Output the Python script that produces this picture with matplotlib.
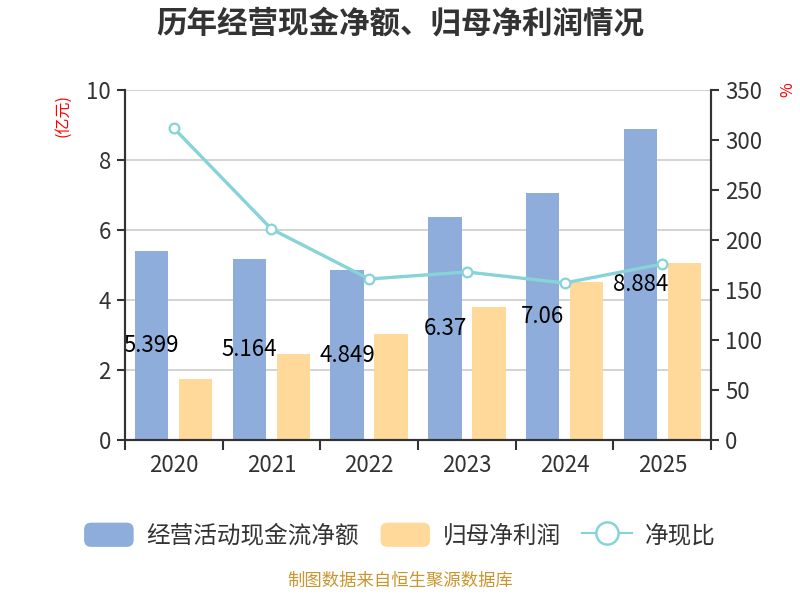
import numpy as np
import matplotlib.pyplot as plt
from matplotlib.patches import FancyBboxPatch, Patch
from matplotlib.lines import Line2D
from matplotlib.legend_handler import HandlerPatch

plt.rcParams['font.family'] = ['Noto Sans CJK SC', 'DejaVu Sans']

years = ['2020', '2021', '2022', '2023', '2024', '2025']
cash_flow = [5.399, 5.164, 4.849, 6.37, 7.06, 8.884]
net_profit = [1.73, 2.45, 3.02, 3.79, 4.50, 5.05]
ratio = [312, 211, 161, 168, 157, 176]

blue = '#8EADDB'
orange = '#FFD99A'
teal = '#86D4D7'
dark = '#333333'


class RoundBox(HandlerPatch):
    def create_artists(self, legend, orig_handle, xdescent, ydescent,
                       width, height, fontsize, trans):
        p = FancyBboxPatch((-xdescent + 2, -ydescent + 2), width - 4, height - 4,
                           boxstyle='round,pad=2,rounding_size=5',
                           facecolor=orig_handle.get_facecolor(),
                           edgecolor='none', transform=trans)
        return [p]


fig = plt.figure(figsize=(8, 6), dpi=100)
ax = fig.add_axes([0.156, 0.2667, 0.733, 0.5833])
ax2 = ax.twinx()

x = np.arange(len(years))
w = 0.344
ax.bar(x - 0.225, cash_flow, w, color=blue, zorder=2)
ax.bar(x + 0.225, net_profit, w, color=orange, zorder=2)
for xi, v in zip(x, cash_flow):
    ax.text(xi - 0.225, v / 2, str(v), ha='center', va='center',
            fontsize=16, color='black', zorder=5)

ax2.plot(x, ratio, color=teal, lw=2.4, marker='o', ms=7,
         mfc='white', mec=teal, mew=1.6, zorder=4)

ax.set_xlim(-0.5, 5.5)
ax.set_ylim(0, 10)
ax.set_yticks(range(0, 11, 2))
ax2.set_ylim(0, 350)
ax2.set_yticks(range(0, 351, 50))

ax.set_xticks(np.arange(-0.5, 6, 1))
ax.set_xticklabels([])
ax.set_xticks(x, minor=True)
ax.set_xticklabels(years, minor=True)
ax.tick_params(axis='x', which='major', length=7, width=1.5, color=dark)
ax.tick_params(axis='x', which='minor', length=0, labelsize=16,
               labelcolor=dark, pad=10)
ax.tick_params(axis='y', length=6, width=1.5, color=dark, labelsize=16,
               labelcolor=dark, pad=4)
ax2.tick_params(axis='y', length=6, width=1.5, color=dark, labelsize=16,
                labelcolor=dark, pad=4)

ax.yaxis.grid(True, color='#CCCCCC', lw=1.2, zorder=0)
ax.set_axisbelow(True)
for a in (ax, ax2):
    a.spines['top'].set_visible(False)
    for s in ('left', 'right', 'bottom'):
        a.spines[s].set_color(dark)
        a.spines[s].set_linewidth(1.5)

fig.text(0.078, 0.808, '(亿元)', color='red', rotation=90, fontsize=11.5,
         ha='center', va='center')
fig.text(0.985, 0.85, '%', color='red', rotation=90, fontsize=11.5,
         ha='center', va='center')

fig.suptitle('历年经营现金净额、归母净利润情况', x=0.5, y=0.988,
             fontsize=22, fontweight='bold', color=dark)

handles = [Patch(facecolor=blue), Patch(facecolor=orange),
           Line2D([], [], color=teal, lw=1.5, marker='o', ms=16,
                  mfc='white', mec=teal, mew=1.8)]
labels = ['经营活动现金流净额', '归母净利润', '净现比']
leg = fig.legend(handles, labels, loc='center', bbox_to_anchor=(0.5, 0.108),
                 ncol=3, frameon=False, fontsize=17, handlelength=2.1,
                 handleheight=1.2, columnspacing=0.9, handletextpad=0.55,
                 handler_map={Patch: RoundBox()})
for t in leg.get_texts():
    t.set_color(dark)

fig.text(0.5, 0.017, '制图数据来自恒生聚源数据库', color='#C9962E',
         fontsize=12.5, ha='center', va='bottom')

fig.savefig('out.png', dpi=100)
